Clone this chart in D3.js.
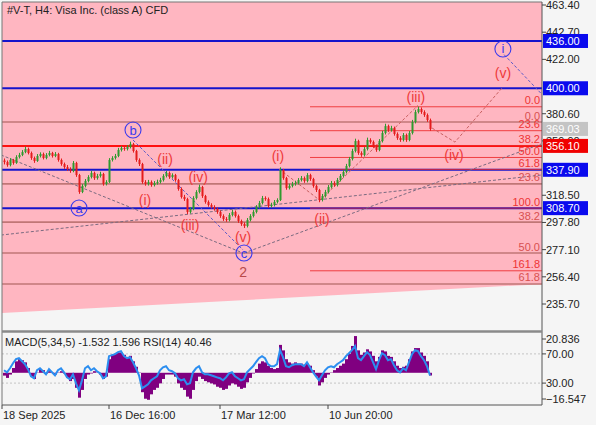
<!DOCTYPE html>
<html><head><meta charset="utf-8">
<script src="https://cdn.jsdelivr.net/npm/d3@7"></script>
<style>
html,body{margin:0;padding:0;background:#f5f5f5;}
svg{display:block;font-family:"Liberation Sans",Arial,sans-serif;}
</style></head><body><svg id="c" width="596" height="425"></svg>
<script>
// ---------------- DATA ----------------
const firstOpen = 345.0;
const closes = [343.8,341.5,345.4,343.1,347.6,349.2,351.4,353.7,350.7,346.9,
344.6,348.4,349.9,346.9,349.2,350.7,348.4,349.9,345.4,342.3,
340.0,338.5,337.0,343.1,333.9,321.0,325.6,329.4,332.4,335.5,
331.6,333.2,334.7,327.1,328.6,345.4,346.9,348.4,353.0,354.5,
353.7,355.3,357.5,352.2,345.4,342.3,328.6,327.1,328.6,326.3,
327.8,328.6,330.1,333.2,335.5,332.4,333.9,330.1,323.3,317.2,
315.6,305.8,308.0,316.4,321.0,324.8,317.9,313.4,311.1,309.6,
308.0,305.8,302.7,300.4,299.7,303.5,305.8,302.7,298.9,296.6,
295.1,299.7,302.7,305.8,309.6,312.6,316.4,315.6,310.3,311.1,
313.4,314.9,337.7,331.6,324.0,325.6,327.1,327.8,330.1,331.6,
329.4,333.9,330.9,325.6,322.5,314.9,317.9,321.0,324.8,327.8,
326.3,330.1,333.2,336.2,340.8,346.1,352.2,359.8,350.7,349.2,
353.7,360.6,359.1,356.0,353.0,359.8,365.9,371.2,368.2,369.7,
365.2,362.1,360.6,364.4,360.6,365.9,374.3,381.9,384.2,381.9,
379.6,375.8,369.0];
const highs = [346.5,345.0,346.8,346.2,349.0,350.8,352.9,355.6,354.8,351.8,
348.0,349.9,351.2,351.0,350.6,352.3,351.6,351.4,350.8,346.5,
343.4,341.5,339.8,344.6,344.0,334.8,327.0,330.9,333.8,337.0,
336.5,334.8,336.4,335.6,330.0,346.8,348.3,350.0,354.6,356.0,
355.9,356.8,359.3,358.4,353.1,346.6,343.2,330.0,330.2,329.8,
329.3,330.4,331.8,334.6,337.0,336.6,335.2,334.8,331.0,324.5,
318.8,316.6,309.6,317.8,322.4,326.6,325.7,318.8,314.6,312.4,
310.9,309.2,306.9,304.0,301.9,305.0,307.4,306.9,303.8,300.0,
297.9,301.2,304.1,307.2,311.0,314.2,318.0,317.7,316.8,312.8,
314.9,316.2,339.8,338.6,332.5,327.3,328.7,329.6,331.6,333.2,
332.8,335.4,334.9,331.8,326.7,323.4,319.5,322.6,326.3,329.4,
329.2,331.7,334.7,337.8,342.4,347.7,353.9,361.6,360.8,352.0,
355.2,362.4,361.9,360.2,357.1,361.3,367.6,373.0,372.3,371.4,
370.8,366.4,363.5,365.9,365.5,367.4,375.9,383.6,386.0,385.4,
383.2,380.8,376.9];
const lows = [342.0,340.2,340.5,341.8,342.4,346.5,348.3,350.5,349.6,345.5,
343.2,343.9,347.3,345.8,345.9,348.1,347.2,347.5,344.1,341.0,
338.6,337.1,335.6,336.0,332.5,319.6,320.1,324.5,328.3,331.3,
330.2,330.4,332.0,325.8,326.0,327.9,344.2,345.7,347.5,351.8,
352.4,352.6,354.2,351.0,344.0,340.8,327.2,325.8,325.9,325.0,
325.2,326.6,327.5,329.0,332.1,331.0,331.2,328.8,322.0,316.0,
314.2,304.1,304.6,307.1,315.3,319.9,316.5,312.1,309.8,308.3,
306.8,304.4,301.3,299.0,298.3,298.6,302.4,301.5,297.5,295.2,
293.6,294.0,298.6,301.6,304.7,308.4,311.5,314.3,309.0,309.1,
310.0,312.3,314.1,330.3,322.7,322.9,324.5,325.8,326.7,329.0,
328.0,328.3,329.5,324.3,321.0,313.2,313.8,316.8,319.9,323.7,
325.0,325.2,329.0,332.1,335.1,339.7,345.0,351.1,349.3,347.8,
348.1,352.6,357.8,354.6,351.6,352.0,358.7,364.8,366.8,367.0,
363.9,360.7,359.2,359.5,359.2,359.6,364.8,373.2,380.8,380.5,
378.2,374.4,367.6];
const macd = [-1.6,-2.9,-1.0,2.7,6.5,7.7,7.1,5.9,2.7,-2.2,
-3.5,0.2,2.1,1.5,-0.4,0.9,0.2,-1.0,0.2,0.9,
-0.4,-2.9,-4.7,-3.5,-8.5,-14.1,-9.7,-3.5,-1.0,-0.4,
0.9,0.2,-1.0,-3.5,-2.2,7.7,10.2,10.8,11.5,11.5,
10.2,9.0,9.6,6.5,3.4,0.2,-11.0,-14.7,-15.3,-12.2,
-9.7,-8.5,-6.0,-3.5,-1.0,-1.0,-1.0,-2.2,-6.0,-8.5,
-9.7,-13.5,-14.7,-9.7,-4.7,-2.2,-3.5,-4.7,-5.4,-6.0,
-6.6,-7.9,-8.5,-9.7,-9.1,-7.2,-6.0,-6.6,-7.9,-9.1,
-8.5,-5.4,-2.9,-0.4,2.1,5.2,6.5,5.9,4.0,2.7,
2.1,2.7,15.8,12.7,7.7,5.9,5.2,5.9,5.2,5.2,
4.6,5.2,4.0,1.5,-2.2,-7.2,-5.4,-2.9,-1.0,0.2,
1.5,2.7,4.0,5.2,7.7,10.8,15.2,20.8,12.7,10.2,
11.5,13.3,12.1,9.6,6.5,9.0,12.7,12.1,9.6,9.0,
6.5,4.0,2.7,3.4,4.0,7.7,12.1,14.0,14.0,11.5,
9.6,6.5,-1.532];
const rsi = [47.6,44.8,50.3,57.2,62.8,64.1,60.0,55.9,49.0,39.3,
36.6,47.6,50.3,46.2,42.1,49.0,44.8,40.7,47.6,50.3,
44.8,37.9,35.2,42.1,29.7,20.0,33.8,50.3,53.1,47.6,
50.3,46.2,43.4,36.6,39.3,66.9,68.3,69.7,72.4,73.8,
66.9,64.1,65.5,58.6,50.3,40.7,22.8,25.5,28.3,33.8,
36.6,39.3,47.6,51.7,53.1,47.6,46.2,43.4,36.6,33.8,
35.2,28.3,29.7,44.8,50.3,53.1,44.8,42.1,42.1,40.7,
39.3,37.9,36.6,33.8,37.9,43.4,44.8,39.3,36.6,33.8,
35.2,44.8,49.0,53.1,58.6,64.1,66.9,64.1,55.9,53.1,
53.1,55.9,75.2,65.5,53.1,51.7,54.5,55.9,55.9,55.9,
53.1,58.6,51.7,44.8,39.3,33.8,40.7,47.6,51.7,53.1,
51.7,55.9,58.6,61.4,66.9,71.0,75.2,80.7,64.1,61.4,
66.9,72.4,68.3,58.6,49.0,61.4,71.0,68.3,61.4,62.8,
54.5,47.6,44.8,50.3,47.6,58.6,69.7,75.2,73.8,66.9,
61.4,53.1,40.46];

const xTickLabels = ["18 Sep 2025","16 Dec 16:00","17 Mar 12:00","10 Jun 20:00"];
const xTickBars = [0, 35, 72, 108];
// visible price-scale ticks (401.30 and 339.20 are hidden under level boxes in the original)
const priceTicks = [463.40,442.70,422.00,380.60,359.90,318.50,297.80,277.10,256.40,235.70];
const blueLevels = [436.00, 400.00, 337.90, 308.70];
const redLevel = 356.10;
const bidPrice = 369.03;
const fib1Start = 102, fib1P0 = 385.9, fib1P100 = 308.7;
const fib1Levels = [0, 23.6, 38.2, 50, 61.8, 100, 161.8];
const fib2P0 = 374.3, fib2P100 = 174.7;
const fib2Levels = [0, 23.6, 38.2, 50, 61.8];
const channelLeft = [-1, 228.8], channelRight = [180, 250.9];
const macdMax = 20.836, macdMin = -16.547;
const rsiLevels = [70, 30];

const grayDashed = [
  [[-1, 349.2],[79.7, 274.5]],
  [[-1, 288.2],[179, 333.9]],
  [[80, 274.5],[179, 357.5]]
];
const blueDashed = [
  [[43, 360.6],[79.7, 276.8]],
  [[166.7, 425.6],[179, 396.1]]
];
const redDashed = [
  [[91.7, 338.5],[105.3, 314.6]],
  [[105.3, 314.6],[138, 386.9]],
  [[142.7, 369.7],[150.3, 359.0],[166, 400.2]]
];
const circleLabels = [
  {t:"a", i:25, p:308.8}, {t:"b", i:43, p:368.2},
  {t:"c", i:80, p:274.5}, {t:"i", i:166.3, p:429.9}
];
const redLabels = [
  {t:"(i)", i:47, p:314.9}, {t:"(ii)", i:53.7, p:346.1},
  {t:"(iii)", i:62, p:295.8}, {t:"(iv)", i:64.7, p:332.4},
  {t:"(v)", i:79.7, p:286.7}, {t:"(i)", i:91.3, p:348.4},
  {t:"(ii)", i:106, p:300.4}, {t:"(iii)", i:137.3, p:393.3},
  {t:"(iv)", i:150, p:349.2}, {t:"(v)", i:166.3, p:411.6}
];
const waveNumber = {t:"2", i:79.7, p:260.1};

// ---------------- LAYOUT ----------------
const L = 2, R = 542, T = 2, B = 331, ST = 333, SB = 405;
const svg = d3.select("#c");
const x = d3.scaleLinear().domain([0, 179]).range([4, 541]);
const y = d3.scaleLinear().domain([235.7, 463.4]).range([304, 5]);
const yM = d3.scaleLinear().domain([macdMin, macdMax]).range([402, 336]);
const yR = d3.scaleLinear().domain([0, 100]).range([405, 332]);

svg.append("rect").attr("width",596).attr("height",425).attr("fill","#f5f5f5");
const defs = svg.append("defs");
defs.append("clipPath").attr("id","cm").append("rect").attr("x",L).attr("y",T).attr("width",R-L).attr("height",B-T);
defs.append("clipPath").attr("id","cs").append("rect").attr("x",L).attr("y",ST).attr("width",R-L).attr("height",SB-ST);

const main = svg.append("g").attr("clip-path","url(#cm)");
// pink channel
main.append("path").attr("fill","#ffb6c1")
  .attr("d", `M${x(channelLeft[0])},${T-5} L${x(channelRight[0])},${T-5} L${x(channelRight[0])},${y(channelRight[1])} L${x(channelLeft[0])},${y(channelLeft[1])} Z`);

// fib 2 (full width)
const f2 = l => fib2P0 - (fib2P0 - fib2P100) * l / 100;
main.selectAll(".f2").data(fib2Levels).join("line")
  .attr("x1",L).attr("x2",R).attr("y1",d=>y(f2(d))).attr("y2",d=>y(f2(d)))
  .attr("stroke","#c07676").attr("stroke-width",1.6);

// blue levels
main.selectAll(".bl").data(blueLevels).join("line")
  .attr("x1",L).attr("x2",R).attr("y1",d=>y(d)).attr("y2",d=>y(d))
  .attr("stroke","#1414cc").attr("stroke-width",2);
// red level
main.append("line").attr("x1",L).attr("x2",R).attr("y1",y(redLevel)).attr("y2",y(redLevel))
  .attr("stroke","#ff1010").attr("stroke-width",2);

// fib 1
const f1 = l => fib1P0 - (fib1P0 - fib1P100) * l / 100;
main.selectAll(".f1").data(fib1Levels).join("line")
  .attr("x1",x(fib1Start)).attr("x2",R).attr("y1",d=>y(f1(d))).attr("y2",d=>y(f1(d)))
  .attr("stroke","#ee2a2a").attr("stroke-width",1).attr("opacity",0.85);

// dashed lines
const ln = d3.line().x(d=>x(d[0])).y(d=>y(d[1]));
main.selectAll(".gd").data(grayDashed).join("path").attr("d",ln).attr("fill","none")
  .attr("stroke","#7a6a80").attr("stroke-width",1).attr("stroke-dasharray","3,2");
main.selectAll(".bd").data(blueDashed).join("path").attr("d",ln).attr("fill","none")
  .attr("stroke","#5a5ac8").attr("stroke-width",1).attr("stroke-dasharray","3,2");
main.selectAll(".rd").data(redDashed).join("path").attr("d",ln).attr("fill","none")
  .attr("stroke","#c86060").attr("stroke-width",1).attr("stroke-dasharray","3,2");

// fib labels
main.selectAll(".f1t").data(fib1Levels).join("text")
  .attr("x",R-2).attr("y",d=>y(f1(d))-2.5).attr("text-anchor","end")
  .attr("font-size",11).attr("fill","#ee3434").text(d=>d3.format(".1f")(d));
main.selectAll(".f2t").data(fib2Levels).join("text")
  .attr("x",R-2).attr("y",d=>y(f2(d))-2.5).attr("text-anchor","end")
  .attr("font-size",11).attr("fill","#d85050").text(d=>d3.format(".1f")(d));

// candles
const opens = closes.map((c,i)=> i===0 ? firstOpen : closes[i-1]);
const cg = main.append("g");
closes.forEach((c,i)=>{
  const o = opens[i], up = c >= o, col = up ? "#2f9a2f" : "#e41c1c";
  cg.append("line").attr("x1",x(i)+0.5).attr("x2",x(i)+0.5).attr("y1",y(highs[i])).attr("y2",y(lows[i]))
    .attr("stroke",col).attr("stroke-width",1);
  const yt = y(Math.max(o,c)), yb = y(Math.min(o,c));
  cg.append("rect").attr("x",x(i)-0.5).attr("y",yt).attr("width",2).attr("height",Math.max(1,yb-yt)).attr("fill",col);
});

// wave labels
main.selectAll(".cl").data(circleLabels).join("circle")
  .attr("cx",d=>x(d.i)).attr("cy",d=>y(d.p)).attr("r",8)
  .attr("fill","none").attr("stroke","#3a3aee").attr("stroke-width",1.1);
main.selectAll(".clt").data(circleLabels).join("text")
  .attr("x",d=>x(d.i)).attr("y",d=>y(d.p)+4.5).attr("text-anchor","middle")
  .attr("font-size",13).attr("fill","#3a3aee").text(d=>d.t);
main.selectAll(".rl").data(redLabels).join("text")
  .attr("x",d=>x(d.i)).attr("y",d=>y(d.p)+5).attr("text-anchor","middle")
  .attr("font-size",14).attr("fill","#ee3a3a").text(d=>d.t);
main.append("text").attr("x",x(waveNumber.i)).attr("y",y(waveNumber.p)+5).attr("text-anchor","middle")
  .attr("font-size",14).attr("fill","#b84a4a").text(waveNumber.t);

// title
svg.append("text").attr("x",7).attr("y",14).attr("font-size",11).attr("fill","#222")
  .text("#V-T, H4:  Visa Inc. (class A) CFD");

// ---------------- SUB PANEL ----------------
const sub = svg.append("g").attr("clip-path","url(#cs)");
sub.selectAll(".rl").data(rsiLevels).join("line")
  .attr("x1",L).attr("x2",R).attr("y1",d=>yR(d)).attr("y2",d=>yR(d))
  .attr("stroke","#c4c4c4").attr("stroke-dasharray","2,2");
sub.selectAll(".mh").data(macd).join("rect")
  .attr("x",(d,i)=>x(i)-1).attr("width",3)
  .attr("y",d=>Math.min(yM(d),yM(0))).attr("height",d=>Math.abs(yM(d)-yM(0)))
  .attr("fill","#800080");
sub.append("path").datum(rsi).attr("fill","none").attr("stroke","#2b8ef0").attr("stroke-width",2)
  .attr("d", d3.line().x((d,i)=>x(i)).y(d=>yR(d)));
svg.append("text").attr("x",5).attr("y",346).attr("font-size",11).attr("fill","#222")
  .text("MACD(5,34,5) -1.532 1.596 RSI(14) 40.46");

// ---------------- FRAMES & AXES ----------------
const fr = svg.append("g").attr("stroke","#777").attr("fill","none");
fr.append("line").attr("x1",L).attr("x2",L).attr("y1",T).attr("y2",SB);
fr.append("line").attr("x1",L).attr("x2",R).attr("y1",T).attr("y2",T);
fr.append("line").attr("x1",R).attr("x2",R).attr("y1",T).attr("y2",SB).attr("stroke","#555");
fr.append("line").attr("x1",L).attr("x2",R).attr("y1",331.5).attr("y2",331.5).attr("stroke","#8a8a8a").attr("stroke-width",2.5);
fr.append("line").attr("x1",L).attr("x2",R).attr("y1",SB).attr("y2",SB).attr("stroke","#555");

// price axis
const ax = svg.append("g");
priceTicks.forEach(p=>{
  ax.append("line").attr("x1",R).attr("x2",R+4).attr("y1",y(p)).attr("y2",y(p)).attr("stroke","#444");
  ax.append("text").attr("x",R+4).attr("y",y(p)+4).attr("font-size",11).attr("fill","#222").text(d3.format(".2f")(p));
});
function box(p, col, tcol){
  ax.append("rect").attr("x",R+1).attr("y",y(p)-7).attr("width",45).attr("height",14).attr("fill",col);
  ax.append("text").attr("x",R+4).attr("y",y(p)+4).attr("font-size",11).attr("fill",tcol).text(d3.format(".2f")(p));
}
box(bidPrice, "#c4c4c4", "#fff");
blueLevels.forEach(p=>box(p, "#0a0aee", "#fff"));
box(redLevel, "#f00000", "#fff");

// sub axis
[[macdMax, yM(macdMax)+3, d3.format(".3f")], [macdMin, yM(macdMin)-3, d3.format(".3f")]].forEach(([v,yy,f])=>{
  ax.append("line").attr("x1",R).attr("x2",R+4).attr("y1",yy).attr("y2",yy).attr("stroke","#444");
  ax.append("text").attr("x",R+4).attr("y",yy+4).attr("font-size",11).attr("fill","#222").text(f(v));
});
rsiLevels.forEach(v=>{
  ax.append("line").attr("x1",R).attr("x2",R+4).attr("y1",yR(v)).attr("y2",yR(v)).attr("stroke","#444");
  ax.append("text").attr("x",R+4).attr("y",yR(v)+4).attr("font-size",11).attr("fill","#222").text(d3.format(".2f")(v));
});

// time axis
xTickBars.forEach((b,k)=>{
  const xx = k===0 ? L : x(b);
  ax.append("line").attr("x1",xx).attr("x2",xx).attr("y1",SB).attr("y2",SB+4).attr("stroke","#444");
  ax.append("text").attr("x",xx+1).attr("y",419).attr("font-size",11).attr("fill","#222").text(xTickLabels[k]);
});
</script></body></html>
